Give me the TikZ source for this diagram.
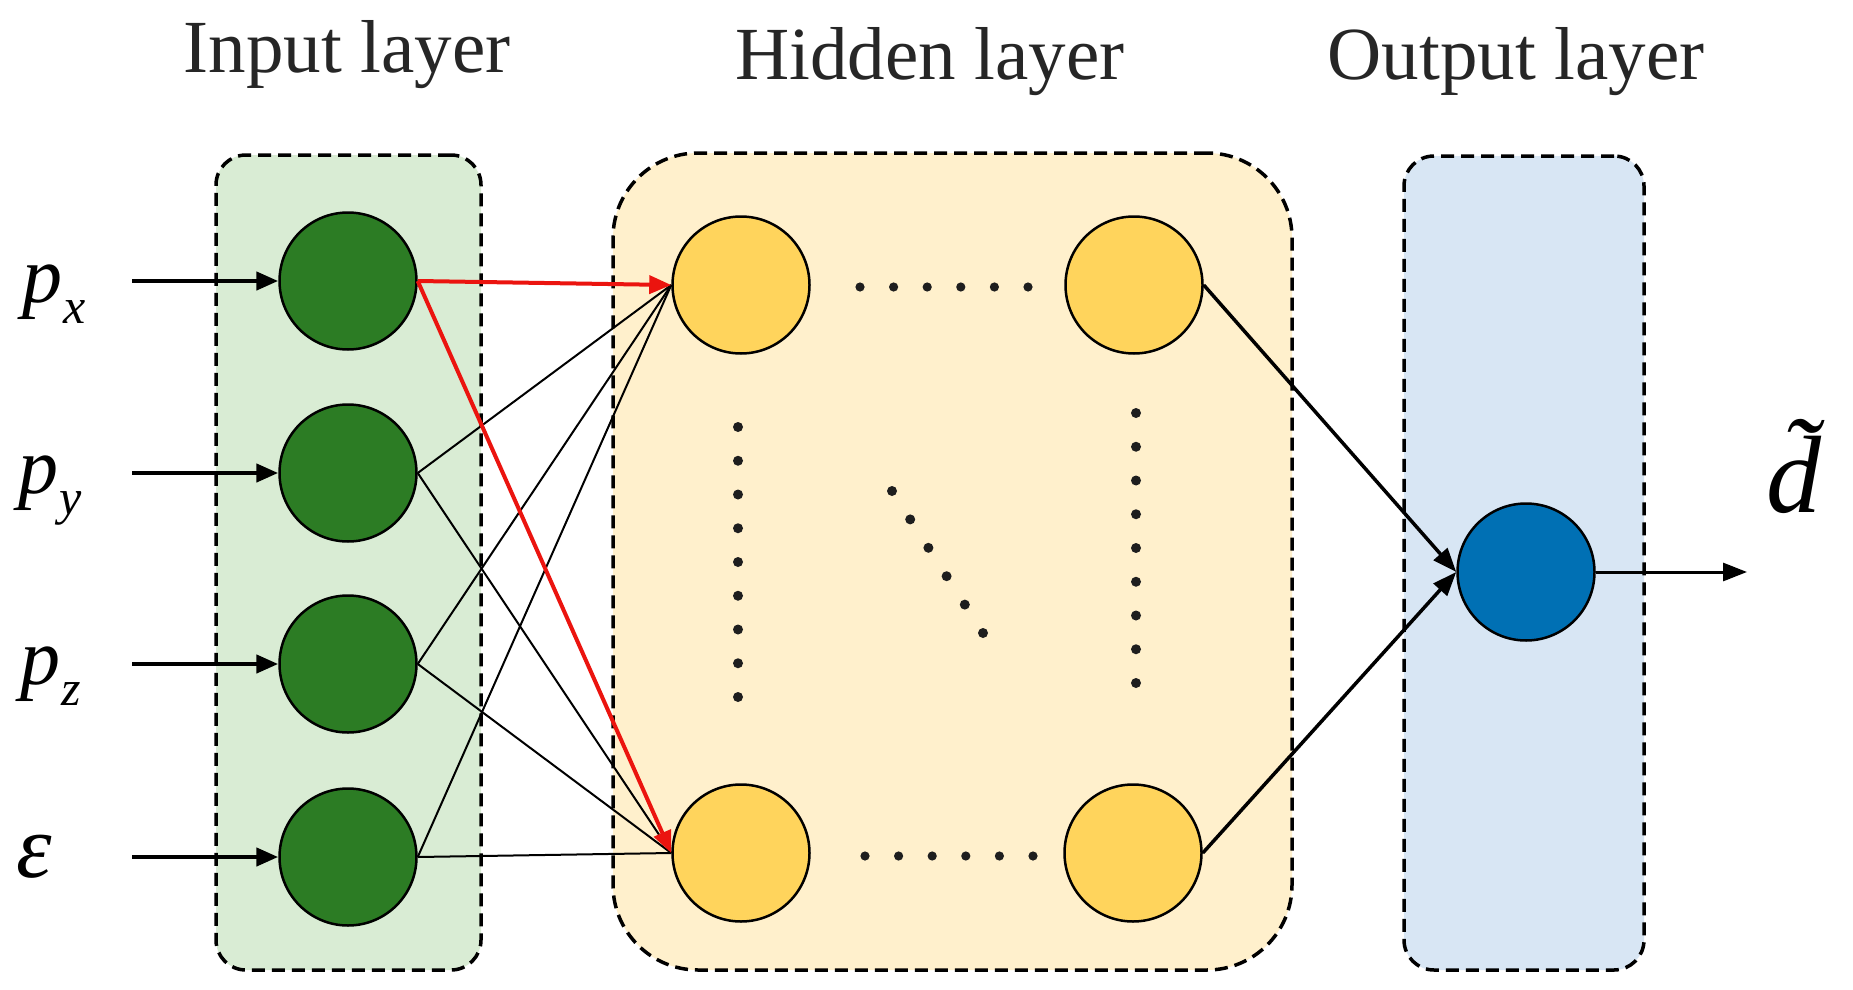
\documentclass[tikz,border=0pt]{standalone}
\usepackage{fontspec}
\setmainfont{Liberation Serif}
\usetikzlibrary{arrows.meta}
\definecolor{inboxc}{RGB}{217,236,212}
\definecolor{hidboxc}{RGB}{255,240,204}
\definecolor{outboxc}{RGB}{216,230,244}
\definecolor{greenn}{RGB}{44,124,36}
\definecolor{yellown}{RGB}{255,212,92}
\definecolor{bluen}{RGB}{0,112,180}
\definecolor{redc}{RGB}{235,20,15}
\definecolor{dotc}{RGB}{30,30,30}
\newcommand\plabel[2]{\fontsize{80}{80}\selectfont\itshape p\kern1pt\raisebox{#2}{\fontsize{50}{50}\selectfont #1}}
\begin{document}
\begin{tikzpicture}[x=1pt,y=-1pt,
  layerbox/.style={draw=black, line width=3.5pt, dash pattern=on 13pt off 7pt, inner sep=0pt},
  neuron/.style={circle, draw=black, line width=2.5pt, minimum size=137pt, inner sep=0pt},
  laytitle/.style={anchor=base, font=\fontsize{75}{80}\selectfont, text=black!85},
  conn/.style={line width=2pt},
  redarrow/.style={draw=redc, line width=4pt, -{Triangle[length=22pt,width=18pt]}},
  inarrow/.style={line width=4.5pt, -{Triangle[length=22pt,width=18pt]}},
  outarrow/.style={line width=3.5pt, -{Triangle[length=24pt,width=18pt]}},
  dotmark/.style={fill=dotc}
]
\useasboundingbox (0,0) rectangle (1853,990);
\fill[white] (0,0) rectangle (1853,990);

% layer boxes
\node[layerbox, fill=inboxc, rounded corners=30pt, minimum width=265pt, minimum height=815pt] (inbox) at (348.5,562.5) {};
\node[layerbox, fill=hidboxc, rounded corners=85pt, minimum width=679pt, minimum height=817pt] (hidbox) at (952.5,561.5) {};
\node[layerbox, fill=outboxc, rounded corners=30pt, minimum width=240pt, minimum height=814pt] (outbox) at (1524,563) {};

% titles
\node[laytitle] (t1) at (347,73) {Input layer};
\node[laytitle] (t2) at (930,79) {Hidden layer};
\node[laytitle] (t3) at (1516,79) {Output layer};

% neurons
\node[neuron, fill=greenn] (i1) at (348,281) {};
\node[neuron, fill=greenn] (i2) at (348,473) {};
\node[neuron, fill=greenn] (i3) at (348,664) {};
\node[neuron, fill=greenn] (i4) at (348,857) {};
\node[neuron, fill=yellown] (h1) at (741,285) {};
\node[neuron, fill=yellown] (h2) at (1134,285) {};
\node[neuron, fill=yellown] (h3) at (741,853) {};
\node[neuron, fill=yellown] (h4) at (1133,853) {};
\node[neuron, fill=bluen] (o1) at (1526,572) {};

% dots
\foreach \i in {0,...,5} {
  \fill[dotmark] (860+33.6*\i,287) circle (4.6pt);
  \fill[dotmark] (865+33.6*\i,856) circle (4.6pt);
  \fill[dotmark] (892+18.2*\i,491+28.4*\i) circle (5pt);
}
\foreach \i in {0,...,8} {
  \fill[dotmark] (738,427+33.75*\i) circle (5pt);
  \fill[dotmark] (1136,413+33.75*\i) circle (5pt);
}

% input -> hidden connections
\draw[conn] (i2.east) -- (h1.west);
\draw[conn] (i3.east) -- (h1.west);
\draw[conn] (i4.east) -- (h1.west);
\draw[conn] (i2.east) -- (h3.west);
\draw[conn] (i3.east) -- (h3.west);
\draw[conn] (i4.east) -- (h3.west);
\draw[redarrow] (i1.east) -- (h1.west);
\draw[redarrow] (i1.east) -- (h3.west);

% hidden -> output
\draw[outarrow] (h2.east) -- (o1.west);
\draw[outarrow] (h4.east) -- (o1.west);

% input arrows
\coordinate (s1) at (132,281);
\coordinate (s2) at (132,473);
\coordinate (s3) at (132,664);
\coordinate (s4) at (132,857);
\draw[inarrow] (s1) -- (i1.west);
\draw[inarrow] (s2) -- (i2.west);
\draw[inarrow] (s3) -- (i3.west);
\draw[inarrow] (s4) -- (i4.west);

% output arrow
\coordinate (e1) at (1747,572);
\draw[outarrow, line width=3pt] (o1.east) -- (e1);

% labels
\node[anchor=base west, inner sep=0pt] (lx) at (22,302) {\plabel{x}{-21pt}};
\node[anchor=base west, inner sep=0pt] (ly) at (18,493) {\plabel{y}{-21pt}};
\node[anchor=base west, inner sep=0pt] (lz) at (20,684) {\plabel{z}{-21pt}};
\node[anchor=base west, inner sep=0pt] (le) at (16,877) {\fontsize{90}{90}\selectfont\itshape ε};
\node[anchor=base west, inner sep=0pt] (ld) at (1766,512) {\fontsize{110}{110}\selectfont\itshape\rlap{\kern15.5pt\raisebox{19pt}{˜}}d};
\end{tikzpicture}
\end{document}
